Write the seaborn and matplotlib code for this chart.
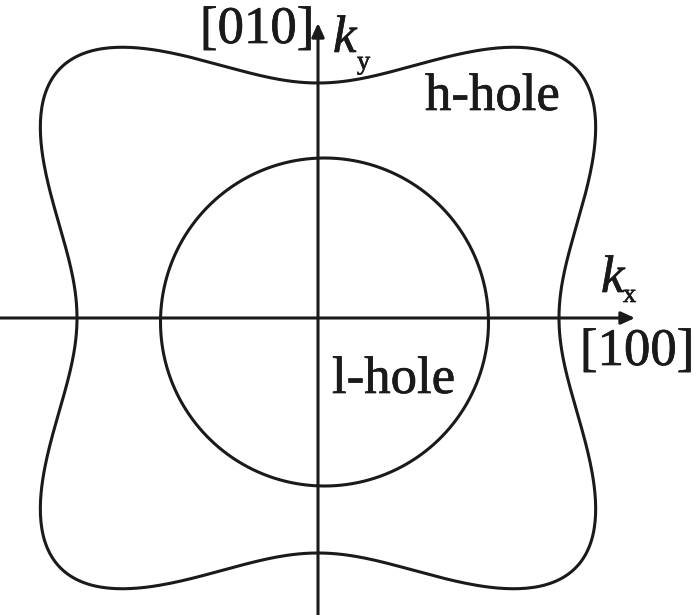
import numpy as np
import pandas as pd
import seaborn as sns
import matplotlib.pyplot as plt
import matplotlib.patheffects as pe
from matplotlib import font_manager as fm

sns.set_style("white")
have = {f.name for f in fm.fontManager.ttflist}
serif = [n for n in ["Liberation Serif", "Times New Roman", "Nimbus Roman", "Tinos", "FreeSerif"] if n in have]
plt.rcParams['font.family'] = serif + ['DejaVu Serif']

# h-hole (warped) surface (pixel units, origin at axes crossing)
hh_kx0 = 241      # crossing on kx axis
hh_ky0 = 235      # crossing on ky axis
hh_warp = 0.56    # warping strength along <110>

# l-hole circle
lh_center = (6.5, -4)
lh_radius = 164

# axis extents
kx_range = (-318, 317)
ky_range = (-297, 295)

labels = {
    "[010]": (-118, 275),
    "h-hole": (107, 208),
    "l-hole": (14, -75),
    "[100]": (262, -47),
}

ink = "#1a1a1a"
th = np.linspace(0, 2 * np.pi, 721)
r = 1 / np.sqrt(1 - hh_warp * np.sin(2 * th) ** 2)
hh = pd.DataFrame({"kx": hh_kx0 * r * np.cos(th), "ky": hh_ky0 * r * np.sin(th)})
lh = pd.DataFrame({"kx": lh_center[0] + lh_radius * np.cos(th),
                   "ky": lh_center[1] + lh_radius * np.sin(th)})

fig = plt.figure(figsize=(6.96, 6.15), dpi=100)
ax = fig.add_axes([0, 0, 1, 1])

for df in (hh, lh):
    sns.lineplot(data=df, x="kx", y="ky", sort=False, estimator=None, errorbar=None,
                 color=ink, lw=2.2, ax=ax)

arrow = dict(arrowstyle="-|>,head_length=0.55,head_width=0.25", lw=2.2,
             color=ink, mutation_scale=15, shrinkA=0, shrinkB=0)
ax.annotate("", xy=(kx_range[1], 0), xytext=(kx_range[0], 0), arrowprops=arrow)
ax.annotate("", xy=(0, ky_range[1]), xytext=(0, ky_range[0]), arrowprops=arrow)

heavy = [pe.withStroke(linewidth=0.5, foreground=ink)]
for txt, (x, y) in labels.items():
    ax.text(x, y, txt, fontsize=38, ha="left", va="baseline", color=ink, path_effects=heavy)

ax.text(15, 266, "k", fontsize=38, style="italic", ha="left", va="baseline", color=ink, path_effects=heavy)
ax.text(39, 249, "y", fontsize=19, ha="left", va="baseline", color=ink, path_effects=heavy)
ax.text(283, 26, "k", fontsize=38, style="italic", ha="left", va="baseline", color=ink, path_effects=heavy)
ax.text(305, 16, "x", fontsize=19, ha="left", va="baseline", color=ink, path_effects=heavy)

ax.set_xlim(-318, 378)
ax.set_ylim(-297, 318)
ax.set_aspect("equal")
ax.axis("off")

fig.savefig("out.png", dpi=100)
